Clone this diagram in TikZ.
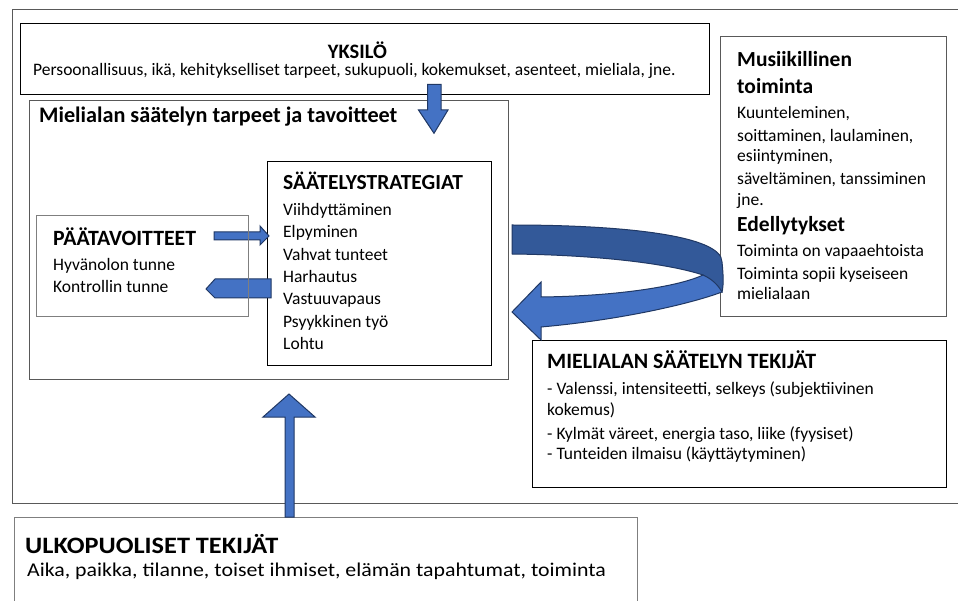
\documentclass[tikz,border=0pt]{standalone}
\usepackage{fontspec}
\setmainfont{Carlito}
\newfontfamily\widefont[FakeStretch=1.12]{Carlito}
\usetikzlibrary{fit}
\definecolor{arrfill}{HTML}{4472C4}
\definecolor{arrdark}{HTML}{335999}
\definecolor{arrline}{HTML}{203864}
\definecolor{boxgray}{HTML}{595959}
\definecolor{boxlight}{HTML}{7F7F7F}
\begin{document}
\begin{tikzpicture}[x=1pt,y=-1pt,
  box/.style={draw=black, line width=1pt, inner sep=0pt},
  graybox/.style={draw=boxgray, line width=1pt, inner sep=0pt},
  lightbox/.style={draw=boxlight, line width=1pt, inner sep=0pt},
  blockarrow/.style={fill=arrfill, draw=arrline, line width=1pt, line join=miter},
  backband/.style={fill=arrdark, draw=arrline, line width=1pt},
  txt/.style={anchor=base west, inner sep=0pt, font=\fontsize{17.5}{21}\selectfont},
  head/.style={anchor=base west, inner sep=0pt, font=\bfseries\fontsize{21.5}{26}\selectfont}]
\useasboundingbox (0,0) rectangle (958,601);
\fill[white] (0,0) rectangle (958,601);

% outer frame (right side beyond the picture)
\draw[boxgray, line width=1pt] (958,10) -- (12,10) -- (12,503) -- (958,503);

% boxes
\node[box, fit={(20,24) (709,95)}] (yksilo) {};
\node[graybox, fit={(29,101) (508,379)}] (tarpeet) {};
\node[box, fit={(267,162) (491,365)}] (strat) {};
\node[graybox, fit={(720,37) (946,317)}] (musa) {};
\node[box, fit={(532,341) (946,487)}] (tekijat) {};
\draw[boxlight, line width=1pt] (14,610) -- (14,517) -- (637,517) -- (637,610);

% texts: YKSILÖ
\node[head, anchor=base, text depth=0pt, font=\bfseries\fontsize{20.5}{24}\selectfont] (yk-t) at (357.5,58.5) {YKSILÖ};
\node[txt] (yk-s) at (33,75.5) {Persoonallisuus, ikä, kehitykselliset tarpeet, sukupuoli, kokemukset, asenteet, mieliala, jne.};

% Mielialan säätelyn tarpeet ja tavoitteet
\node[head, font=\bfseries\fontsize{22.2}{26}\selectfont] (ta-t) at (39,123) {Mielialan säätelyn tarpeet ja tavoitteet};

% SÄÄTELYSTRATEGIAT
\node[head] (st-t) at (283,190) {SÄÄTELYSTRATEGIAT};
\node[txt] (st1) at (283,215.7) {Viihdyttäminen};
\node[txt] (st2) at (283,238) {Elpyminen};
\node[txt] (st3) at (283,260.3) {Vahvat tunteet};
\node[txt] (st4) at (283,282.6) {Harhautus};
\node[txt] (st5) at (283,304.9) {Vastuuvapaus};
\node[txt] (st6) at (283,327.2) {Psyykkinen työ};
\node[txt] (st7) at (283,349.5) {Lohtu};

% Musiikillinen toiminta
\node[head] (mu-t1) at (737,66.7) {Musiikillinen};
\node[head] (mu-t2) at (737,93.3) {toiminta};
\node[txt] (mu1) at (737,118.3) {Kuunteleminen,};
\node[txt] (mu2) at (737,141.7) {soittaminen, laulaminen,};
\node[txt] (mu3) at (737,161.7) {esiintyminen,};
\node[txt] (mu4) at (737,184.3) {säveltäminen, tanssiminen};
\node[txt] (mu5) at (737,206) {jne.};
\node[head] (ed-t) at (737,231.7) {Edellytykset};
\node[txt] (ed1) at (737,256.7) {Toiminta on vapaaehtoista};
\node[txt] (ed2) at (737,279.3) {Toiminta sopii kyseiseen};
\node[txt] (ed3) at (737,299.3) {mielialaan};

% MIELIALAN SÄÄTELYN TEKIJÄT
\node[head, font=\bfseries\fontsize{21.9}{26}\selectfont] (te-t) at (547,369) {MIELIALAN SÄÄTELYN TEKIJÄT};
\node[txt] (te1) at (547,394.3) {- Valenssi, intensiteetti, selkeys (subjektiivinen};
\node[txt] (te2) at (547,415) {kokemus)};
\node[txt] (te3) at (547,439) {- Kylmät väreet, energia taso, liike (fyysiset)};
\node[txt] (te4) at (547,459.3) {- Tunteiden ilmaisu (käyttäytyminen)};

% ULKOPUOLISET TEKIJÄT
\node[head, font=\widefont\bfseries\fontsize{23.5}{28}\selectfont] (ul-t) at (25,553.3) {ULKOPUOLISET TEKIJÄT};
\node[txt, font=\widefont\fontsize{19.5}{23}\selectfont] (ul-s) at (27,576.7) {Aika, paikka, tilanne, toiset ihmiset, elämän tapahtumat, toiminta};

% small arrows between PÄÄTAVOITTEET and SÄÄTELYSTRATEGIAT
\draw[blockarrow] (214,232) -- (260,232) -- (260,226) -- (269,236) -- (260,245) -- (260,240) -- (214,240) -- cycle;
\draw[blockarrow] (271,279) -- (215,279) -- (206,289) -- (215,298) -- (271,298) -- cycle;

% PÄÄTAVOITTEET box (its border shows through the arrows)
\node[lightbox, fit={(36,216) (248,317)}] (paa) {};
\node[head, font=\bfseries\fontsize{21.8}{26}\selectfont] (pa-t) at (53,246) {PÄÄTAVOITTEET};
\node[txt] (pa1) at (53,270.7) {Hyvänolon tunne};
\node[txt] (pa2) at (53,292.3) {Kontrollin tunne};

% down arrow from YKSILÖ
\draw[blockarrow] (427.7,84.3) -- (441,84.3) -- (441,110) -- (448,110) -- (434,133.3) -- (418.5,110) -- (427.7,110) -- cycle;

% up arrow from ULKOPUOLISET TEKIJÄT
\draw[blockarrow] (285,517) -- (285,417) -- (263,417) -- (289,394) -- (315,417) -- (294,417) -- (294,517) -- cycle;

% curved arrow from Musiikillinen toiminta back into the model
\draw[backband] (512,225) .. controls (620,225) and (722,235) .. (722,262)
  .. controls (723,272) and (724,284) .. (722,292)
  -- (703,275) .. controls (670,264) and (600,255) .. (512,254) -- cycle;
\draw[blockarrow] (722,292) .. controls (690,304) and (620,320) .. (541,327)
  -- (541,340) -- (512,312) -- (541,282) -- (541,297)
  .. controls (620,296) and (680,286) .. (703,275)
  .. controls (712,279) and (718,285) .. (722,292) -- cycle;
\end{tikzpicture}
\end{document}
